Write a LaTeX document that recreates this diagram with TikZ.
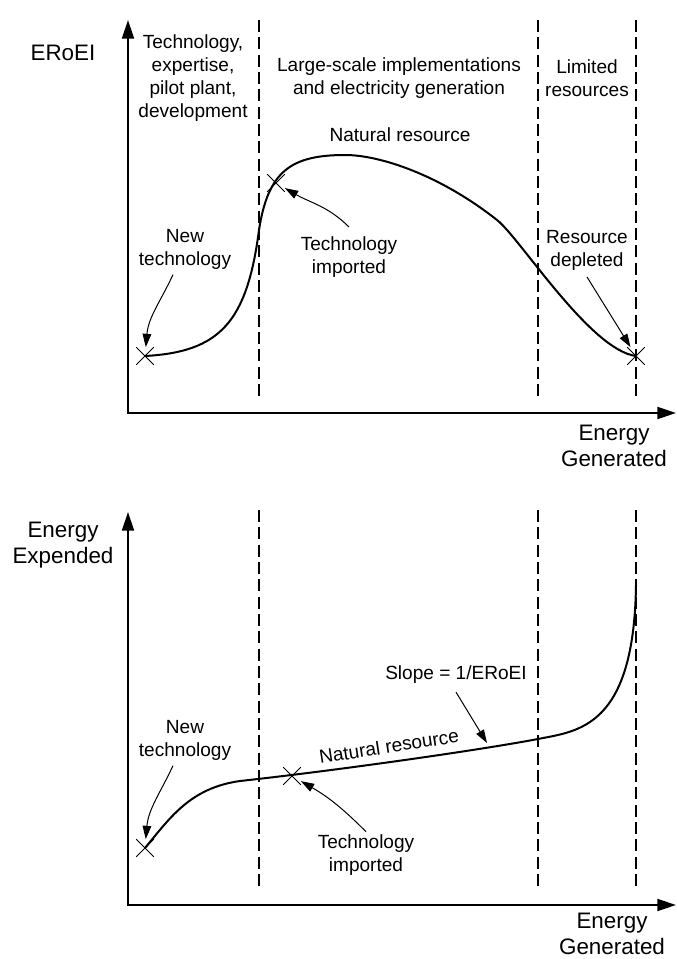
\documentclass[tikz,border=0pt]{standalone}
\usepackage{fontspec}
\setmainfont{Liberation Sans}
\usepackage{tikz}
\usetikzlibrary{arrows.meta,shapes.misc}

\tikzset{
  axis/.style={line width=1.5pt, {Triangle[length=14pt,width=9pt]}-{Triangle[length=14pt,width=9pt]}},
  divider/.style={line width=1.4pt, dash pattern=on 9pt off 4pt},
  curve/.style={line width=1.5pt},
  note/.style={line width=0.75pt, -{Triangle[length=10pt,width=6.5pt]}},
  xmark/.style={cross out, draw, line width=0.75pt, minimum size=12.5pt, inner sep=0pt},
  txt/.style={font=\fontsize{14.3}{17.25}\selectfont, align=center, inner sep=0pt},
  axlabel/.style={font=\fontsize{16.8}{19.5}\selectfont, align=center, inner sep=0pt}
}

\begin{document}
\begin{tikzpicture}[x=0.75pt, y=-0.75pt]
\useasboundingbox (0,0) rectangle (676,959);

% upper graph: ERoEI
\coordinate (Ytop) at (128, 20);
\coordinate (Otop) at (128, 413);
\coordinate (Xtop) at (676, 413);

\draw[axis] (Ytop)--(Otop)--(Xtop);
\node[axlabel] (eroei) at (63, 53) {ERoEI};
\node[axlabel] (gentop) at (614, 446) {Energy\\Generated};

\draw[divider] (259, 20)--(259, 397);
\draw[divider] (538, 20)--(538, 397);
\draw[divider] (636, 20)--(636, 397);

\node[txt] (phase1) at (193, 78) {Technology,\\expertise,\\pilot plant,\\development};
\node[txt] (phase2) at (399, 78) {Large-scale implementations\\and electricity generation};
\node[txt] (phase3) at (587, 78) {Limited\\resources};
\node[txt] (natop) at (400, 135) {Natural resource};

\draw[curve] (145, 356) .. controls (220, 352) and (247, 322) .. (259, 230)
  .. controls (268, 172) and (290, 155) .. (345, 155)
  .. controls (380, 155) and (440, 175) .. (497, 220)
  .. controls (520, 238) and (590, 350) .. (636, 356);

\node[xmark] (newx) at (145, 356) {};
\node[xmark] (impx) at (276, 183) {};
\node[xmark] (depx) at (636, 356) {};

\node[txt] (newtop) at (185, 249) {New\\technology};
\node[txt] (imptop) at (349, 257) {Technology\\imported};
\node[txt] (deptop) at (587, 250) {Resource\\depleted};

\draw[note] ([xshift=-9pt, yshift=-4pt]newtop.south) to[out=-115, in=85] (newx);
\draw[note] ([yshift=7pt]imptop.north) to[out=135, in=-30] (impx);
\draw[note] ([yshift=-5pt]deptop.south) -- (depx);

% lower graph: energy expended
\coordinate (Ybot) at (128, 512);
\coordinate (Obot) at (128, 905);
\coordinate (Xbot) at (676, 905);

\draw[axis] (Ybot)--(Obot)--(Xbot);
\node[axlabel] (expended) at (63, 545) {Energy\\Expended};
\node[axlabel] (genbot) at (612, 934) {Energy\\Generated};

\draw[divider] (259, 510)--(259, 888);
\draw[divider] (538, 510)--(538, 888);
\draw[divider] (636, 510)--(636, 888);

\draw[curve] (145, 848) .. controls (170, 818) and (190, 788) .. (240, 781)
  .. controls (340, 770) and (480, 750) .. (538, 739)
  .. controls (578, 731) and (634, 728) .. (636, 585);

\coordinate (slopept) at (487, 743);
\node[xmark] (newxb) at (145, 848) {};
\node[xmark] (impxb) at (292, 776) {};

\node[txt, rotate=8.8, anchor=base] (natbot) at (390, 753) {Natural resource};
\node[txt] (newbot) at (185, 740) {New\\technology};
\node[txt] (impbot) at (366, 855) {Technology\\imported};
\node[txt] (slope) at (456, 675) {Slope = 1/ERoEI};

\draw[note] ([xshift=-9pt, yshift=-4pt]newbot.south) to[out=-115, in=85] (newxb);
\draw[note] ([yshift=2pt]impbot.north) to[out=135, in=-30] (impxb);
\draw[note] ([yshift=-6pt]slope.south) -- (slopept);

\end{tikzpicture}
\end{document}
